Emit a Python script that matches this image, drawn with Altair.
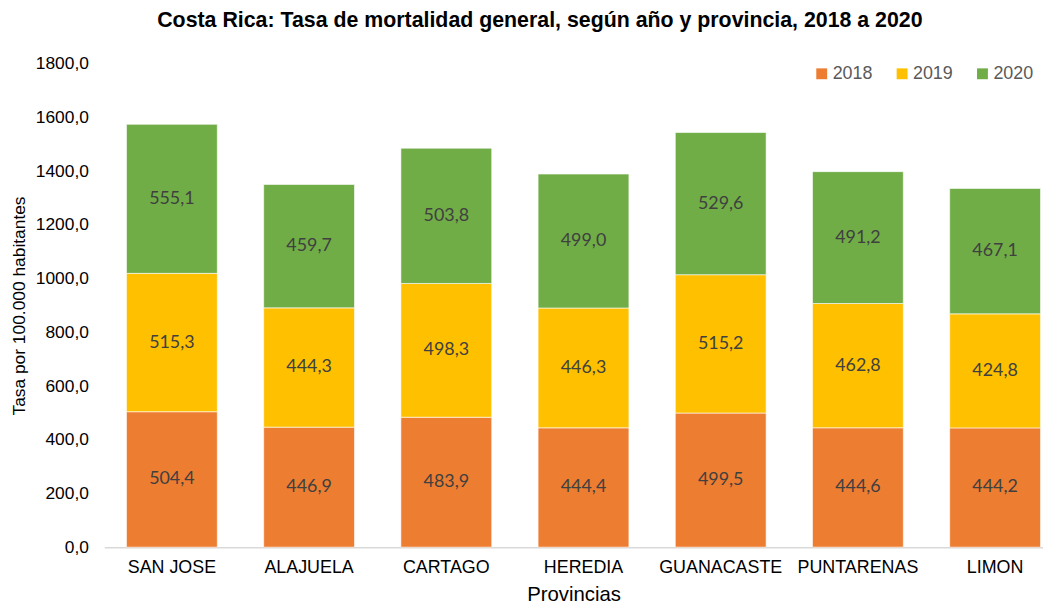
import altair as alt
import pandas as pd

provincias = ["SAN JOSE", "ALAJUELA", "CARTAGO", "HEREDIA", "GUANACASTE", "PUNTARENAS", "LIMON"]
anios = ["2018", "2019", "2020"]
v2018 = [504.4, 446.9, 483.9, 444.4, 499.5, 444.6, 444.2]
v2019 = [515.3, 444.3, 498.3, 446.3, 515.2, 462.8, 424.8]
v2020 = [555.1, 459.7, 503.8, 499.0, 529.6, 491.2, 467.1]
colores = ["#ED7D31", "#FFC000", "#70AD47"]

rows = []
for serie, vals in zip(anios, [v2018, v2019, v2020]):
    for p, v in zip(provincias, vals):
        rows.append({"Provincia": p, "Año": serie, "Tasa": v, "orden": anios.index(serie)})
df = pd.DataFrame(rows)

x = alt.X("Provincia:N", sort=provincias, title="Provincias",
          scale=alt.Scale(paddingInner=0.338, paddingOuter=0.09, align=0.9),
          axis=alt.Axis(labelAngle=0, labelFont="Liberation Sans", labelFontSize=18,
                        labelColor="#000000", titleFont="Liberation Sans", titleFontSize=20.5,
                        titleFontWeight="normal", titleColor="#000000", ticks=False,
                        domainColor="#D9D9D9", domainWidth=1.5, labelPadding=12, titlePadding=8))

base = alt.Chart(df).transform_stack(
    stack="Tasa", groupby=["Provincia"], as_=["y0", "y1"],
    sort=[alt.SortField("orden", order="ascending")]
).transform_calculate(
    mid="(datum.y0 + datum.y1) / 2",
    etiqueta="replace(format(datum.Tasa, '.1f'), '.', ',')"
)

bars = base.mark_bar(stroke="white", strokeWidth=0.6).encode(
    x=x,
    y=alt.Y("y0:Q", title="Tasa por 100.000 habitantes",
            scale=alt.Scale(domain=[0, 1800], nice=False),
            axis=alt.Axis(values=list(range(0, 2000, 200)), grid=False, ticks=False, domain=False,
                          labelExpr="replace(format(datum.value, '.1f'), '.', ',')",
                          labelFont="Liberation Sans", labelFontSize=17.5, labelColor="#000000",
                          labelPadding=16, titleFont="Liberation Sans", titleFontSize=17.5,
                          titleFontWeight="normal", titleColor="#000000", titlePadding=7)),
    y2="y1:Q",
    color=alt.Color("Año:N", scale=alt.Scale(domain=anios, range=colores),
                    legend=alt.Legend(title=None, orient="none", direction="horizontal",
                                      legendX=714, legendY=1, symbolType="square",
                                      symbolSize=120, symbolStrokeWidth=0,
                                      labelFont="Liberation Sans", labelFontSize=18,
                                      labelColor="#595959", columnPadding=20,
                                      labelOffset=2)),
)

labels = base.mark_text(font="Lato", fontSize=18, color="#404040").encode(
    x=x,
    y="mid:Q",
    text="etiqueta:N",
)

chart = (bars + labels).properties(
    width=946, height=487,
    padding={"left": 97, "top": 54, "right": 0, "bottom": 56},
    autosize=alt.AutoSizeParams(type="none"),
    title=alt.TitleParams("Costa Rica: Tasa de mortalidad general, según año y provincia, 2018 a 2020",
                          font="Liberation Sans", fontSize=21.5, fontWeight="bold", color="#000000",
                          anchor="middle", offset=24, dx=-34),
).configure_view(stroke=None)

chart.save("out.html", embed_options={"renderer": "svg", "actions": False})
